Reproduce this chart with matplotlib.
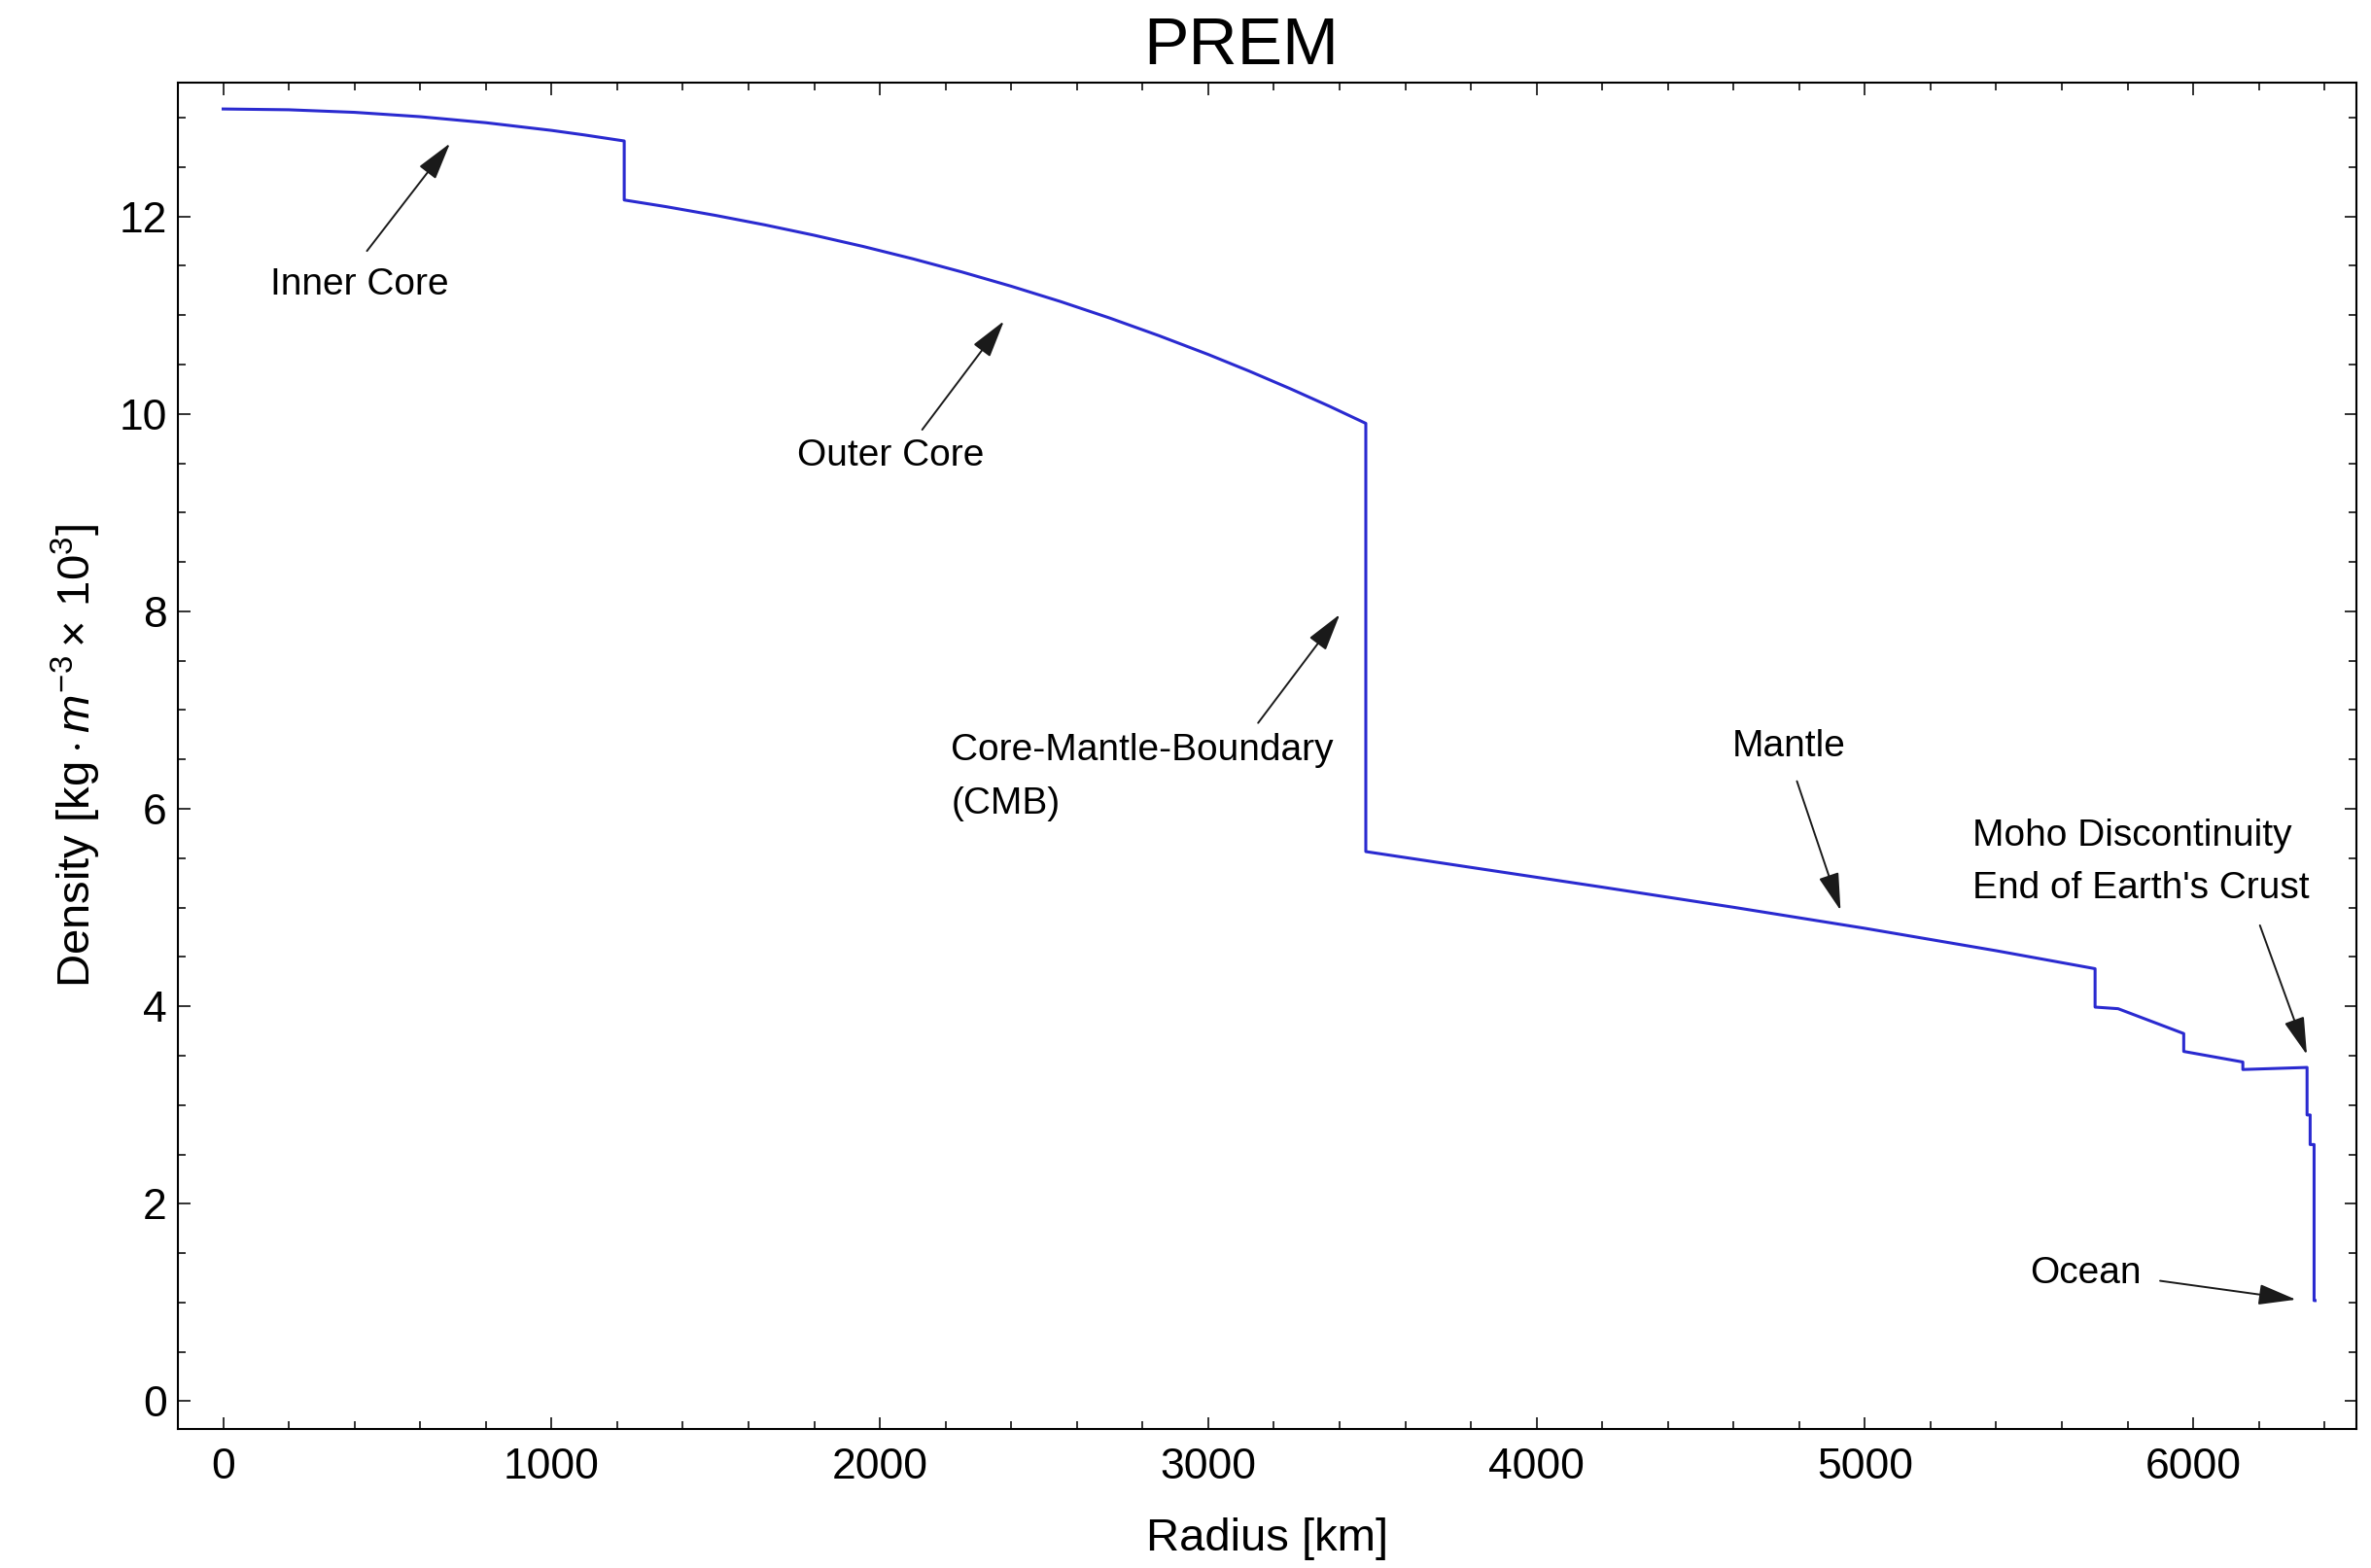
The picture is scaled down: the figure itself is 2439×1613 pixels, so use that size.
import numpy as np
import matplotlib
matplotlib.use('Agg')
import matplotlib.pyplot as plt
from matplotlib.ticker import MultipleLocator

plt.rcParams['font.family'] = ['Liberation Sans', 'DejaVu Sans']
plt.rcParams['mathtext.fontset'] = 'custom'
plt.rcParams['mathtext.rm'] = 'Liberation Sans'
plt.rcParams['mathtext.it'] = 'Liberation Sans:italic'

# --- PREM density profile (radius in km, density in 10^3 kg/m^3) ---
radius = [0, 200, 400, 600, 800, 1000, 1100, 1221.5,
          1221.5, 1350, 1500, 1650, 1800, 1950, 2100, 2250, 2400, 2550, 2700,
          2850, 3000, 3125, 3250, 3370, 3480,
          3480, 3800, 4200, 4600, 5000, 5400, 5701,
          5701, 5771, 5971,
          5971, 6151,
          6151, 6346.6,
          6346.6, 6356,
          6356, 6368,
          6368, 6371]
density = [13.088, 13.080, 13.054, 13.010, 12.949, 12.871, 12.825, 12.764,
           12.166, 12.098, 12.010, 11.914, 11.809, 11.695, 11.571, 11.437, 11.293, 11.138, 10.971,
           10.792, 10.602, 10.433, 10.255, 10.076, 9.904,
           5.567, 5.407, 5.207, 5.003, 4.790, 4.563, 4.381,
           3.992, 3.976, 3.724,
           3.543, 3.436,
           3.360, 3.381,
           2.900, 2.900,
           2.600, 2.600,
           1.020, 1.020]

# annotations: text, text position, arrow tail, arrow head
labels = ['Inner Core', 'Outer Core', 'Core-Mantle-Boundary\n(CMB)', 'Mantle',
          "Moho Discontinuity\nEnd of Earth's Crust", 'Ocean']
label_xy = [(143, 11.31), (1747, 9.57), (2217, 6.32), (4594, 6.63), (5327, 5.46), (5502, 1.29)]
tail_xy = [(438, 11.65), (2129, 9.84), (3152, 6.87), (4793, 6.28), (6203, 4.82), (5899, 1.22)]
head_xy = [(691, 12.74), (2378, 10.94), (3401, 7.97), (4926, 4.97), (6346, 3.51), (6313, 1.03)]

fig = plt.figure(figsize=(24.39, 16.13), dpi=100)
ax = fig.add_axes([0.075, 0.0887, 0.919, 0.8583])

ax.plot(radius, density, color='#2a2ad0', lw=2.2)

for txt, pos, tail, head in zip(labels, label_xy, tail_xy, head_xy):
    ax.text(pos[0], pos[1], txt, fontsize=28, ha='left', va='center', linespacing=1.65)
    ax.annotate('', xy=head, xytext=tail,
                arrowprops=dict(arrowstyle='-|>,head_length=0.8,head_width=0.22',
                                mutation_scale=30, color='#1a1a1a', lw=1.4,
                                shrinkA=0, shrinkB=0))

ax.set_xlim(-138, 6498)
ax.set_ylim(-0.28, 13.35)
ax.xaxis.set_major_locator(MultipleLocator(1000))
ax.xaxis.set_minor_locator(MultipleLocator(200))
ax.yaxis.set_major_locator(MultipleLocator(2))
ax.yaxis.set_minor_locator(MultipleLocator(0.5))
ax.tick_params(which='both', direction='in', top=True, right=True, width=1.3, color='#222222')
ax.tick_params(which='major', length=9)
ax.tick_params(which='minor', length=5.5)
ax.tick_params(axis='x', which='major', labelsize=32, pad=14)
ax.tick_params(axis='y', which='major', labelsize=32, pad=8)
for sp in ax.spines.values():
    sp.set_linewidth(1.5)

ax.set_title('PREM', fontsize=50, x=0.488, pad=14)
ax.set_xlabel('Radius [km]', fontsize=34, labelpad=22)
ax.set_ylabel(r'Density $[\mathrm{kg}\cdot m^{-3}\times\,10^{3}]$', fontsize=34, labelpad=12)

fig.savefig('out.png', dpi=100)
